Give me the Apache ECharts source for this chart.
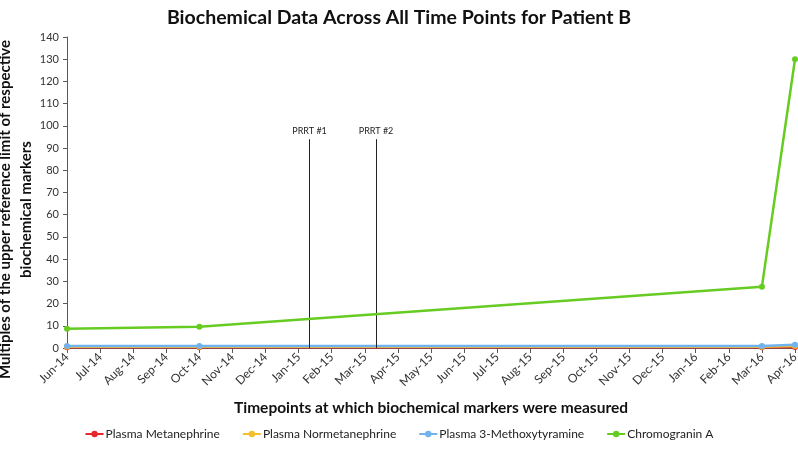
<!DOCTYPE html>
<html>
<head>
<meta charset="utf-8">
<script src="https://cdn.jsdelivr.net/npm/echarts@6/dist/echarts.min.js"></script>
<style>
  html, body { margin: 0; padding: 0; background: #fff; }
  #chart { width: 798px; height: 450px; }
</style>
</head>
<body>
<div id="chart"></div>
<script>
// month labels on the x axis
const months = ['Jun-14','Jul-14','Aug-14','Sep-14','Oct-14','Nov-14','Dec-14','Jan-15','Feb-15','Mar-15',
  'Apr-15','May-15','Jun-15','Jul-15','Aug-15','Sep-15','Oct-15','Nov-15','Dec-15','Jan-16','Feb-16','Mar-16','Apr-16']
// months at which samples were taken (index into months)
const sampleIdx = [0, 4, 21, 22]
const metanephrine = [0.3, 0.3, 0.3, 0.4]
const normetanephrine = [0.6, 0.6, 0.6, 0.9]
const methoxytyramine = [0.9, 0.9, 0.9, 1.5]
const chromogranin = [8.7, 9.6, 27.6, 130]
// treatment markers (fractional month index)
const prrtNames = ['PRRT #1', 'PRRT #2']
const prrtAt = [7.33, 9.34]
const prrtTop = 94

const font = 'Lato'
const chart = echarts.init(document.getElementById('chart'))

function pairs (vals) {
  return sampleIdx.map((m, i) => [m, vals[i]])
}

function lineSeries (name, color, vals, z) {
  return {
    name: name,
    type: 'line',
    data: pairs(vals),
    z: z,
    symbol: 'circle',
    symbolSize: 6,
    lineStyle: { width: 2.5, color: color },
    itemStyle: { color: color }
  }
}

const series = [
  lineSeries('Plasma Metanephrine', '#e8262a', metanephrine, 2),
  lineSeries('Plasma Normetanephrine', '#f5be2c', normetanephrine, 3),
  lineSeries('Plasma 3-Methoxytyramine', '#70b3ef', methoxytyramine, 4),
  lineSeries('Chromogranin A', '#66cc22', chromogranin, 5)
]
series[3].markLine = {
  silent: true,
  symbol: 'none',
  lineStyle: { color: '#222', width: 1, type: 'solid' },
  label: { position: 'end', fontFamily: font, fontSize: 9, color: '#222', distance: 4, formatter: p => p.name },
  data: prrtAt.map((x, i) => [
    { coord: [x, 0], name: prrtNames[i] },
    { coord: [x, prrtTop] }
  ])
}

const option = {
  animation: false,
  textStyle: { fontFamily: font },
  title: {
    text: 'Biochemical Data Across All Time Points for Patient B',
    left: 'center',
    top: 3,
    textStyle: { fontFamily: font, fontSize: 19.5, fontWeight: 'bold', color: '#111' }
  },
  grid: { left: 67, right: 3, top: 37, bottom: 102, outerBoundsMode: 'none', containLabel: false },
  legend: {
    bottom: 5,
    itemGap: 22,
    itemWidth: 18,
    itemHeight: 8,
    textStyle: { fontFamily: font, fontSize: 12, color: '#222', padding: [0, 0, 0, -3] },
    data: series.map(s => s.name)
  },
  xAxis: {
    type: 'value',
    min: 0,
    max: months.length - 1,
    interval: 1,
    splitLine: { show: false },
    axisLine: { lineStyle: { color: '#595959' } },
    axisTick: { show: true, length: 5, lineStyle: { color: '#595959' } },
    axisLabel: {
      rotate: 45,
      fontSize: 12,
      color: '#333',
      margin: 7,
      formatter: v => months[v]
    },
    name: 'Timepoints at which biochemical markers were measured',
    nameLocation: 'middle',
    nameMoveOverlap: false,
    nameGap: 52,
    nameTextStyle: { fontFamily: font, fontSize: 15.5, fontWeight: 'bold', color: '#111', verticalAlign: 'top' }
  },
  yAxis: {
    type: 'value',
    min: 0,
    max: 140,
    interval: 10,
    splitLine: { show: false },
    axisLine: { show: true, lineStyle: { color: '#595959' } },
    axisTick: { show: true, length: 4, lineStyle: { color: '#595959' } },
    axisLabel: { fontSize: 11, color: '#333', margin: 8 },
    name: 'Multiples of the upper reference limit of respective\nbiochemical markers',
    nameLocation: 'middle',
    nameMoveOverlap: false,
    nameGap: 30,
    nameTextStyle: { fontFamily: font, fontSize: 15, fontWeight: 'bold', color: '#111', lineHeight: 21, verticalAlign: 'bottom', padding: [0, 34, 0, 0] }
  },
  series: series
}
chart.setOption(option)
</script>
</body>
</html>
